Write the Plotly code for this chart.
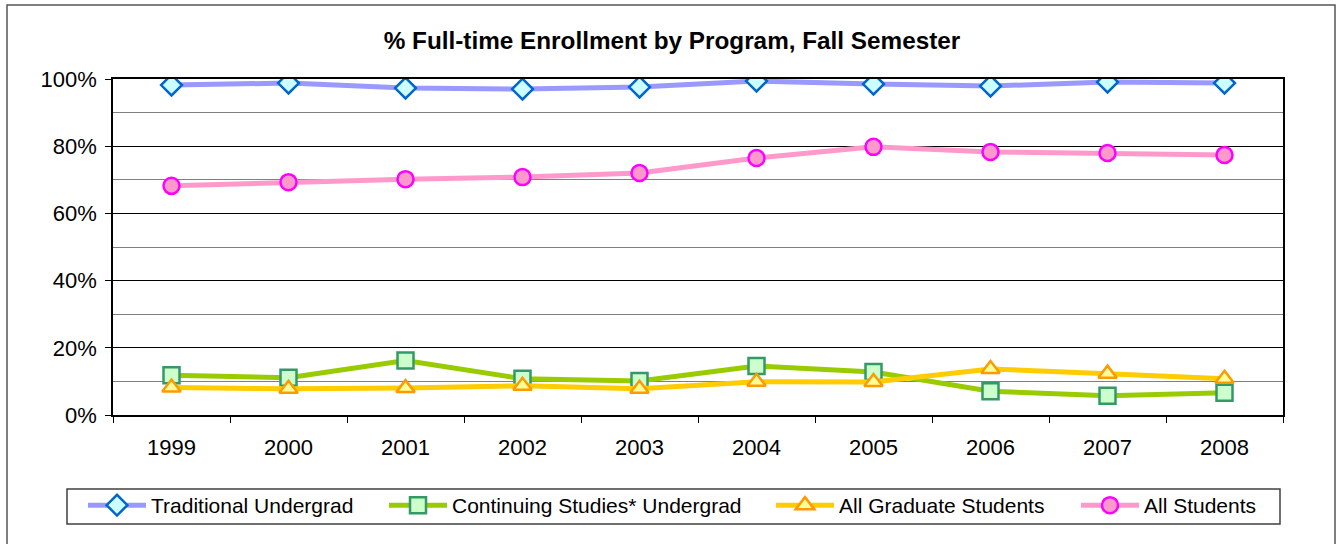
import plotly.graph_objects as go

years = ["1999", "2000", "2001", "2002", "2003", "2004", "2005", "2006", "2007", "2008"]
traditional = [0.982, 0.988, 0.973, 0.970, 0.976, 0.994, 0.985, 0.979, 0.991, 0.988]
continuing = [0.118, 0.111, 0.162, 0.108, 0.101, 0.146, 0.128, 0.071, 0.057, 0.066]
graduate = [0.082, 0.078, 0.080, 0.087, 0.078, 0.099, 0.098, 0.137, 0.123, 0.108]
all_students = [0.682, 0.693, 0.702, 0.708, 0.720, 0.765, 0.798, 0.783, 0.780, 0.774]

FONT = "Liberation Sans, Arial, sans-serif"

W, H = 1336, 544
L, R, T, B = 113, 53, 79, 129
pw, ph = W - L - R, H - T - B


def px_x(px):
    return (px - L) / pw


def px_y(py):
    return (H - B - py) / ph


fig = go.Figure()

series = [
    ("Traditional Undergrad", traditional, "#9999FF", "diamond", "#CCFFFF", "#0066CC", "legend", 83),
    ("Continuing Studies* Undergrad", continuing, "#99CC00", "square", "#CCFFCC", "#339966", "legend2", 384),
    ("All Graduate Students", graduate, "#FFCC00", "triangle-up", "#FFFF99", "#FF9900", "legend3", 771),
    ("All Students", all_students, "#FF99CC", "circle", "#FF99CC", "#FF00FF", "legend4", 1076),
]

legends = {}
for name, vals, lc, sym, fc, oc, lg, lx in series:
    fig.add_trace(go.Scatter(
        x=years, y=vals, name=name, mode="lines+markers",
        line=dict(color=lc, width=5),
        marker=dict(symbol=sym, size=16, color=fc, line=dict(color=oc, width=2.5)),
        legend=lg,
    ))
    legends[lg] = dict(
        orientation="h", x=px_x(lx), xanchor="left",
        y=px_y(485), yanchor="top",
        borderwidth=0, bgcolor="rgba(0,0,0,0)",
        font=dict(family=FONT, size=21, color="black"),
        itemwidth=58,
    )

fig.update_layout(
    width=W, height=H,
    margin=dict(l=L, r=R, t=T, b=B, autoexpand=False),
    paper_bgcolor="white", plot_bgcolor="white",
    font=dict(family=FONT, size=22, color="black"),
    title=dict(text="<b>% Full-time Enrollment by Program, Fall Semester</b>",
               x=px_x(672), xref="paper", xanchor="center",
               y=1 - 40 / H, yanchor="middle",
               font=dict(family=FONT, size=24.3, color="black")),
    showlegend=True,
    xaxis=dict(
        type="category", range=[-0.5, 9.5], showgrid=False, showline=True,
        linecolor="black", linewidth=1.5,
        mirror=True, ticks="outside", tickson="boundaries", ticklen=6, tickcolor="black",
        tickfont=dict(family=FONT, size=22), ticklabelstandoff=12, fixedrange=True,
        automargin=False,
    ),
    yaxis=dict(
        range=[0, 1.0], dtick=0.2, tickformat=".0%", showgrid=True, gridcolor="black",
        gridwidth=1, showline=True, linecolor="black", linewidth=1.5, mirror=True,
        ticks="outside", ticklen=6, tickcolor="black", zeroline=False,
        minor=dict(dtick=0.1, showgrid=True, gridcolor="#808080", gridwidth=1),
        tickfont=dict(family=FONT, size=22), ticklabelstandoff=4, automargin=False,
        fixedrange=True,
    ),
    shapes=[
        dict(type="rect", xref="paper", yref="paper",
             x0=px_x(7), x1=px_x(1335), y0=px_y(570), y1=px_y(5),
             line=dict(color="#555555", width=1.5), fillcolor="rgba(0,0,0,0)", layer="below"),
        dict(type="rect", xref="paper", yref="paper",
             x0=px_x(67), x1=px_x(1280), y0=px_y(524), y1=px_y(489),
             line=dict(color="#404040", width=1.5), fillcolor="white", layer="below"),
    ],
    **legends,
)

fig.write_html(
    "out.html",
    config={"displayModeBar": False},
    post_script="document.body.style.margin='0px';document.body.style.overflow='hidden';",
)
